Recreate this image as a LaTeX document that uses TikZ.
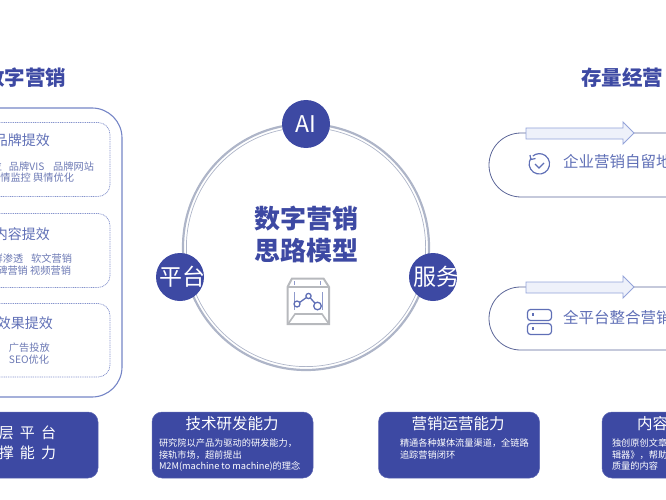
\documentclass[tikz,border=0pt]{standalone}
\usepackage{fontspec}
\setmainfont{Noto Sans CJK SC}
\usetikzlibrary{calc}
\definecolor{navy}{HTML}{3D49A3}
\definecolor{ringc}{HTML}{AEB5C8}
\definecolor{frameb}{HTML}{7585C6}
\definecolor{dashb}{HTML}{8593CC}
\definecolor{pill}{HTML}{5C6698}
\definecolor{arrowb}{HTML}{93A3D9}
\definecolor{arrowf}{HTML}{EEF1FA}
\definecolor{txtb}{HTML}{5F6FB6}
\definecolor{subb}{HTML}{6C79B4}
\definecolor{greyb}{HTML}{B7B9BD}
\newcommand{\fs}[1]{\fontsize{#1}{#1}\selectfont}
\tikzset{
  tx/.style={inner sep=0pt,outer sep=0pt},
  heading/.style={tx,text=navy,font=\fs{20.5}\bfseries},
  sectitle/.style={tx,text=txtb,font=\fs{14}},
  subtext/.style={tx,text=subb,font=\fs{10.2}},
  cardbox/.style={draw=navy!85,fill=navy,rounded corners=10pt,line width=.5pt},
  cardtitle/.style={tx,text=white,font=\fs{15.5}},
  cardbody/.style={tx,text=white,anchor=west,font=\fs{9.2}},
  innerbox/.style={draw=dashb,line width=.7pt,dash pattern=on 1pt off .8pt,rounded corners=12pt},
  hub/.style={circle,fill=navy,minimum size=48pt,inner sep=0pt,text=white,font=\fs{23}},
  hubtext/.style={tx,text=white,font=\fs{23}},
  pillbox/.style={draw=pill,line width=.8pt},
  blockarrow/.style={draw=arrowb,fill=arrowf,line width=.9pt},
  pilltext/.style={tx,anchor=west,text=txtb,font=\fs{15.5}},
  iconline/.style={draw=txtb,line width=1.2pt},
  boxline/.style={draw=greyb,line width=2pt,line join=miter},
}
\begin{document}
\begin{tikzpicture}[x=1pt,y=-1pt]
\useasboundingbox (0,0) rectangle (666,500);
\begin{scope}
\clip (0,0) rectangle (666,500);
% titles
\node[heading,anchor=east] (tleft) at (66,78) {数字营销};
\node[heading,anchor=west] (tright) at (581,78) {存量经营};
% left frame
\draw[frameb,line width=1.1pt,rounded corners=30pt] (-40,108) -- (122,108) -- (122,397) -- (-40,397);
\draw[innerbox] (-30,122.5) -- (110,122.5) -- (110,196.5) -- (-30,196.5);
\draw[innerbox] (-30,213.5) -- (110,213.5) -- (110,287.5) -- (-30,287.5);
\draw[innerbox] (-30,303.5) -- (110,303.5) -- (110,377) -- (-30,377);
\node[sectitle,anchor=east] (s1) at (50,140) {品牌提效};
\node[subtext,anchor=east] (s1z) at (2,167) {品牌定位};
\node[subtext,anchor=west] (s1a) at (9,167) {品牌VIS};
\node[subtext,anchor=east] (s1c) at (94,167) {品牌网站};
\node[subtext,anchor=east] (s1b) at (74,178) {舆情监控 舆情优化};
\node[sectitle,anchor=east] (s2) at (50,234) {内容提效};
\node[subtext,anchor=east] (s2a) at (72,259) {社群渗透\hspace{8pt}软文营销};
\node[subtext,anchor=east] (s2b) at (71,271) {口碑营销 视频营销};
\node[sectitle,anchor=east] (s3) at (53,323) {效果提效};
\node[subtext,anchor=west] (s3a) at (9,348) {广告投放};
\node[subtext,anchor=west] (s3b) at (9,360) {SEO优化};
% ring
\draw[ringc,line width=2.2pt] (306,247) circle (123);
\draw[ringc,line width=.7pt] (306,247) circle (119.6);
\node[hub] (ai) at (306,124) {AI};
\node[hub] (pt) at (180,277) {};
\node[hub] (fw) at (433,277) {};
\node[hubtext] (ptx) at (182,277) {平台};
\node[hubtext] (fwx) at (436.5,277) {服务};
\node[tx,text=navy,font=\fs{26}\bfseries] (c1) at (306,219) {数字营销};
\node[tx,text=navy,font=\fs{26}\bfseries] (c2) at (306,251) {思路模型};
% centre icon
\draw[boxline] (287.5,324) -- (287.5,287) -- (292,278.5) -- (323.5,278.5) -- (329,287) -- (329,324) -- cycle;
\draw[greyb,line width=1.2pt] (287.5,287) -- (329,287);
\draw[greyb,line width=1.6pt] (288,324) -- (295,314) -- (322,314) -- (329,324);
\draw[txtb!70,line width=.6pt] (294.5,281) -- (294.5,285) (320,281) -- (320,285) (294.5,292) -- (294.5,310) (322,292) -- (322,310);
\draw[txtb,line width=1.3pt] (297.5,304) -- (308.5,296) -- (317.5,306);
\draw[txtb,line width=1.3pt,fill=white] (297,304) circle (3) (308.5,296) circle (2.6) (317.5,306) circle (3.8);
% right pills
\draw[pillbox] (700,133) -- (521,133) arc[start angle=-90,end angle=-270,radius=32] -- (700,197);
\draw[blockarrow] (526,128) -- (623,128) -- (623,122) -- (634,133) -- (623,144) -- (623,139) -- (526,139) -- cycle;
\node[pilltext] (p1) at (563,162) {企业营销自留地};
\draw[pillbox] (700,287) -- (520.5,287) arc[start angle=-90,end angle=-270,radius=31.5] -- (700,350);
\draw[blockarrow] (526,282) -- (623,282) -- (623,276) -- (634,287) -- (623,298) -- (623,293) -- (526,293) -- cycle;
\node[pilltext] (p2) at (563,318) {全平台整合营销};
% icon: clock with check
\draw[iconline] (531,158) arc[start angle=215,end angle=-130,radius=10.2];
\draw[iconline] (530,155) -- (530.8,159.5) -- (535.5,158.5);
\draw[iconline] (535,164) -- (539,168) -- (544,163);
% icon: two server bars
\draw[iconline,rounded corners=3pt] (527.5,309.5) rectangle (551.5,320.5);
\draw[iconline,rounded corners=3pt] (527.5,323.5) rectangle (551.5,334.5);
\draw[iconline] (533,313) -- (533,316) (533,327) -- (533,330);
% bottom cards
\draw[cardbox] (-30,412) rectangle (98,478);
\node[tx,text=white,anchor=east,font=\fs{15}] (b1a) at (56,433) {底\hspace{6pt}层\hspace{6pt}平\hspace{6pt}台};
\node[tx,text=white,anchor=east,font=\fs{15}] (b1b) at (56,453) {支\hspace{6pt}撑\hspace{6pt}能\hspace{6pt}力};
\draw[cardbox] (152,412) rectangle (313,478);
\node[cardtitle] (b2) at (232,424) {技术研发能力};
\node[cardbody] (b2a) at (159,443) {研究院以产品为驱动的研发能力，};
\node[cardbody] (b2b) at (159,455) {接轨市场，超前提出};
\node[cardbody] (b2c) at (159,466) {M2M(machine to machine)的理念};
\draw[cardbox] (378.5,412) rectangle (539.5,478);
\node[cardtitle] (b3) at (458,424) {营销运营能力};
\node[cardbody] (b3a) at (400,443) {精通各种媒体流量渠道，全链路};
\node[cardbody] (b3b) at (400,455) {追踪营销闭环};
\draw[cardbox] (602,412) rectangle (720,478);
\node[cardtitle,anchor=west] (b4) at (637,424) {内容};
\node[cardbody] (b4a) at (612,443) {独创原创文章};
\node[cardbody] (b4b) at (612,455) {辑器》，帮助};
\node[cardbody] (b4c) at (612,466) {质量的内容};
\end{scope}
\end{tikzpicture}
\end{document}
